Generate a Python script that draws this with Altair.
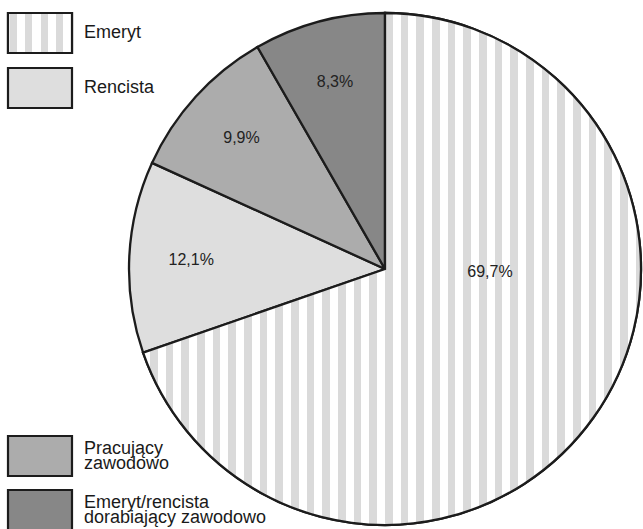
import math

import altair as alt
import pandas as pd

# ---- data -------------------------------------------------------------
categories = [
    "Emeryt",
    "Rencista",
    "Pracujący zawodowo",
    "Emeryt/rencista dorabiający zawodowo",
]
shares = [69.7, 12.1, 9.9, 8.3]
share_labels = ["69,7%", "12,1%", "9,9%", "8,3%"]
legend_texts = [
    "Emeryt",
    "Rencista",
    "Pracujący\nzawodowo",
    "Emeryt/rencista\ndorabiający zawodowo",
]

# ---- style / layout ---------------------------------------------------
fills = ["#ffffff", "#dedede", "#acacac", "#878787"]
STRIPE_GREY = "#dadada"
EDGE = "#1c1c1c"
FONT = "Liberation Sans"

W, H = 643, 529
CX, CY, R = 385, 269, 256          # pie centre and radius (px)
LABEL_R = 194                      # radius for labels of the small slices
BIG_LABEL_R = 105                  # radius for the label of the large slice
STRIPE_PERIOD, STRIPE_WIDTH = 15.67, 7.6

LEG_X, LEG_W, LEG_H = 8, 64, 40
LEG_TOPS = [13, 68, 436, 490]
LEG_TEXT_X = 84
LEG_LINE_H = 15

# ---- derived table ------------------------------------------------------
ends = []
acc = 0.0
for s in shares:
    acc += s
    ends.append(acc)
starts = [e - s for e, s in zip(ends, shares)]
mids = [(a + b) / 2 for a, b in zip(starts, ends)]
# the big slice keeps its label on the horizontal line right of the centre
label_angle = [25.45] + mids[1:]
label_r = [BIG_LABEL_R] + [LABEL_R] * (len(shares) - 1)

df = pd.DataFrame(
    {
        "cat": categories,
        "share": shares,
        "start": starts,
        "end": ends,
        "lab_angle": label_angle,
        "lab_r": label_r,
        "label": share_labels,
    }
)

# first text line is anchored, so lift multi-line entries to centre the block
n_lines = [t.count("\n") + 1 for t in legend_texts]
leg = pd.DataFrame(
    {
        "cat": categories,
        "text": legend_texts,
        "x0": [LEG_X] * 4,
        "x1": [LEG_X + LEG_W] * 4,
        "y0": LEG_TOPS,
        "y1": [t + LEG_H for t in LEG_TOPS],
        "ty": [t + LEG_H / 2 - (n - 1) * LEG_LINE_H / 2 for t, n in zip(LEG_TOPS, n_lines)],
        "tx": [LEG_TEXT_X] * 4,
    }
)


def stripe_gradient(x_min, width, origin, period, gray_w):
    """Vertical stripes as a hard-stop linear gradient over a bounding box."""
    stops = []
    k0 = math.floor((x_min - origin) / period) - 1
    k1 = math.ceil((x_min + width - origin) / period) + 1
    last = 0.0
    for k in range(k0, k1 + 1):
        a = (origin + k * period - x_min) / width
        b = a + gray_w / width
        a, b = max(0.0, min(1.0, a)), max(0.0, min(1.0, b))
        if b <= 0 or a >= 1 or b <= a:
            continue
        a = max(a, last)
        stops += [
            alt.GradientStop(offset=a, color="#ffffff"),
            alt.GradientStop(offset=a, color=STRIPE_GREY),
            alt.GradientStop(offset=b, color=STRIPE_GREY),
            alt.GradientStop(offset=b, color="#ffffff"),
        ]
        last = b
    if not stops:
        stops = [alt.GradientStop(offset=0, color="#ffffff")]
    return alt.LinearGradient(
        gradient="linear", stops=stops, x1=0, x2=1, y1=0, y2=0
    )


# horizontal extent of the first slice's path (its bounding box)
t_end = 2 * math.pi * ends[0] / 100
xs = [CX] + [CX + R * math.sin(t_end * i / 4000) for i in range(4001)]
big_xmin, big_xmax = min(xs), max(xs)
pie_stripes = stripe_gradient(
    big_xmin, big_xmax - big_xmin, CX, STRIPE_PERIOD, STRIPE_WIDTH
)
legend_stripes = stripe_gradient(LEG_X, LEG_W, LEG_X + 2, 15.4, 7.0)

# ---- chart --------------------------------------------------------------
theta_scale = alt.Scale(domain=[0, 100], range=[0, 2 * math.pi])
fill_scale = alt.Scale(domain=categories, range=fills)

base = alt.Chart(df)

arcs = base.mark_arc(radius=R, stroke=EDGE, strokeWidth=2.3).encode(
    theta=alt.Theta("start:Q", scale=theta_scale, stack=None),
    theta2="end:Q",
    fill=alt.Fill("cat:N", scale=fill_scale, legend=None),
    x=alt.value(CX),
    y=alt.value(CY),
)

striped = (
    base.transform_filter(alt.datum.cat == categories[0])
    .mark_arc(radius=R, stroke=EDGE, strokeWidth=2.3, fill=pie_stripes)
    .encode(
        theta=alt.Theta("start:Q", scale=theta_scale, stack=None),
        theta2="end:Q",
        x=alt.value(CX),
        y=alt.value(CY),
    )
)

labels = base.mark_text(font=FONT, fontSize=16, color="#222222").encode(
    theta=alt.Theta("lab_angle:Q", scale=theta_scale, stack=None),
    radius=alt.Radius("lab_r:Q", scale=None),
    text="label:N",
    x=alt.value(CX),
    y=alt.value(CY),
)

leg_base = alt.Chart(leg)
leg_enc = dict(
    x=alt.X("x0:Q", scale=None),
    x2="x1:Q",
    y=alt.Y("y0:Q", scale=None),
    y2="y1:Q",
)
leg_boxes = leg_base.mark_rect(stroke=EDGE, strokeWidth=2.2).encode(
    fill=alt.Fill("cat:N", scale=fill_scale, legend=None), **leg_enc
)
leg_striped = (
    leg_base.transform_filter(alt.datum.cat == categories[0])
    .mark_rect(stroke=EDGE, strokeWidth=2.2, fill=legend_stripes)
    .encode(**leg_enc)
)
leg_text = leg_base.mark_text(
    font=FONT,
    fontSize=18,
    align="left",
    baseline="middle",
    lineBreak="\n",
    lineHeight=LEG_LINE_H,
    color="#1a1a1a",
).encode(
    x=alt.X("tx:Q", scale=None),
    y=alt.Y("ty:Q", scale=None),
    text="text:N",
)

chart = (
    alt.layer(arcs, striped, labels, leg_boxes, leg_striped, leg_text)
    .properties(width=W, height=H, autosize="none", padding=0, background="white")
    .configure_view(stroke=None)
)

chart.save("out.html", embed_options={"renderer": "svg", "actions": False})
